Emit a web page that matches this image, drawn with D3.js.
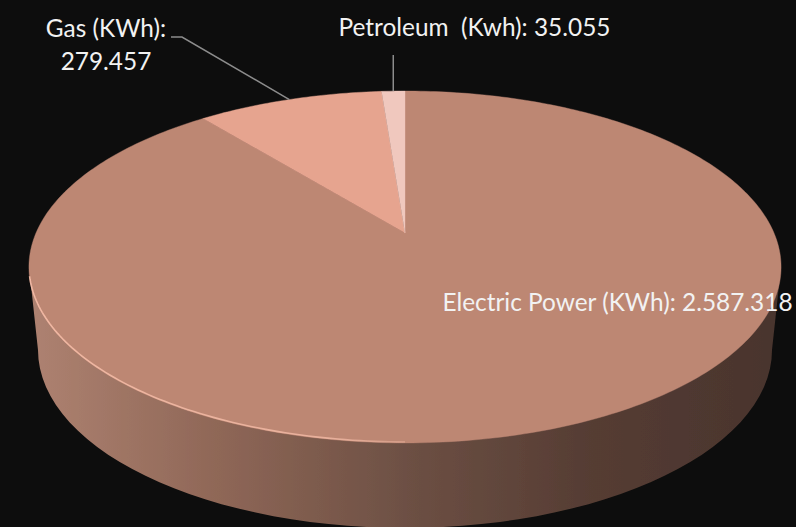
<!DOCTYPE html>
<html>
<head>
<meta charset="utf-8">
<script src="https://d3js.org/d3.v7.min.js"></script>
<style>
    html, body { margin: 0; padding: 0; background: #0d0d0d; }
    svg { display: block; }
    text { font-family: Lato, "Open Sans", sans-serif; font-size: 24.4px; fill: #f2f2f2; }
</style>
</head>
<body>
<div id="chart"></div>
<script>
    // chart values
    var categories = ["Electric Power (KWh)", "Gas (KWh)", "Petroleum  (Kwh)"];
    var values = [2587318, 279457, 35055];
    var valueLabels = ["2.587.318", "279.457", "35.055"];
    var sliceColors = ["#bd8773", "#e6a48f", "#f0c8be"];

    var svgWidth = 796;
    var svgHeight = 527;

    var svg = d3
        .select("#chart")
        .append("svg")
        .attr("width", svgWidth)
        .attr("height", svgHeight);

    svg.append("rect")
        .attr("width", svgWidth)
        .attr("height", svgHeight)
        .attr("fill", "#0d0d0d");

    // the disc is tilted in perspective, so the pie centre sits above the middle of the ellipse
    var centerX = 405;
    var centerY = 233;
    var spreadX = 369;
    var spreadY = 169.4;
    var tilt = 0.193;

    function project(angle, r) {
        var u = r * Math.sin(angle);
        var v = r * Math.cos(angle);
        var d = 1 + tilt * v;
        return [centerX + spreadX * u / d, centerY - spreadY * v / d];
    }

    var pie = d3.pie().sort(null).value(d => d);
    var arcs = pie(values);
    var line = d3.line();

    function arcPoints(a0, a1) {
        var n = Math.max(2, Math.ceil(Math.abs(a1 - a0) * 60));
        return d3.range(n + 1).map(i => project(a0 + (a1 - a0) * i / n, 1));
    }

    // gradients and blur
    var defs = svg.append("defs");

    var wallGradient = defs.append("linearGradient")
        .attr("id", "wall")
        .attr("gradientUnits", "userSpaceOnUse")
        .attr("x1", 29).attr("x2", 781).attr("y1", 0).attr("y2", 0);
    [[0, "#ae8271"], [0.25, "#8f6757"], [0.5, "#6d5044"], [0.75, "#553c33"], [1, "#49342d"]].forEach(function(s) {
        wallGradient.append("stop").attr("offset", s[0]).attr("stop-color", s[1]);
    });

    var edgeGradient = defs.append("linearGradient")
        .attr("id", "edge")
        .attr("gradientUnits", "userSpaceOnUse")
        .attr("x1", 29).attr("x2", 470).attr("y1", 0).attr("y2", 0);
    edgeGradient.append("stop").attr("offset", 0).attr("stop-color", "#f6bda8").attr("stop-opacity", 0.9);
    edgeGradient.append("stop").attr("offset", 0.7).attr("stop-color", "#f6bda8").attr("stop-opacity", 0.75);
    edgeGradient.append("stop").attr("offset", 1).attr("stop-color", "#f6bda8").attr("stop-opacity", 0);

    defs.append("filter").attr("id", "soft")
        .append("feGaussianBlur").attr("stdDeviation", 0.6);

    // side wall, bottom rim is its own slightly narrower ellipse
    var rimX = d3.scaleLinear().domain([-1, 1]).range([38, 772]);
    var rimY = d3.scaleLinear().domain([-1, 1]).range([172, 528]);
    var rim = d3.range(0, 181, 3).map(function(deg) {
        var t = deg * Math.PI / 180;
        return [rimX(-Math.cos(t)), rimY(Math.sin(t))];
    });
    var wallPoints = [project(-Math.PI / 2 - 0.19, 1)].concat(rim, [project(Math.PI / 2 + 0.19, 1)]);

    svg.append("path")
        .attr("d", line(wallPoints) + "Z")
        .attr("fill", "url(#wall)")
        .attr("filter", "url(#soft)");

    // pie slices
    svg.append("g")
        .attr("filter", "url(#soft)")
        .selectAll("path")
        .data(arcs)
        .enter()
        .append("path")
        .attr("d", d => line([[centerX, centerY]].concat(arcPoints(d.startAngle, d.endAngle))) + "Z")
        .attr("fill", (d, i) => sliceColors[i])
        .attr("stroke", (d, i) => sliceColors[i])
        .attr("stroke-width", 0.4);

    // light bevel along the lower left rim
    svg.append("path")
        .attr("d", line(arcPoints(Math.PI * 1.42, Math.PI * 1.0)))
        .attr("transform", "translate(0,-1)")
        .attr("fill", "none")
        .attr("stroke", "url(#edge)")
        .attr("stroke-width", 1.6)
        .attr("filter", "url(#soft)");

    // leader lines end at the middle of their slice
    var gasMid = project((arcs[1].startAngle + arcs[1].endAngle) / 2, 1);
    var petroleumMid = project((arcs[2].startAngle + arcs[2].endAngle) / 2, 1);

    svg.append("path")
        .attr("d", line([[171, 37], [182, 37], gasMid]))
        .attr("fill", "none")
        .attr("stroke", "#8c8c8c")
        .attr("stroke-width", 1.5);

    svg.append("path")
        .attr("d", line([[petroleumMid[0], 55], petroleumMid]))
        .attr("fill", "none")
        .attr("stroke", "#8c8c8c")
        .attr("stroke-width", 1.5);

    // labels
    svg.append("text")
        .attr("x", 617.5)
        .attr("y", 311)
        .attr("text-anchor", "middle")
        .text(`${categories[0]}: ${valueLabels[0]}`);

    svg.append("text")
        .attr("x", 106)
        .attr("y", 37)
        .attr("text-anchor", "middle")
        .text(`${categories[1]}:`);

    svg.append("text")
        .attr("x", 106)
        .attr("y", 70)
        .attr("text-anchor", "middle")
        .text(valueLabels[1]);

    svg.append("text")
        .attr("x", 474.5)
        .attr("y", 36)
        .attr("text-anchor", "middle")
        .style("white-space", "pre")
        .text(`${categories[2]}: ${valueLabels[2]}`);
</script>
</body>
</html>
